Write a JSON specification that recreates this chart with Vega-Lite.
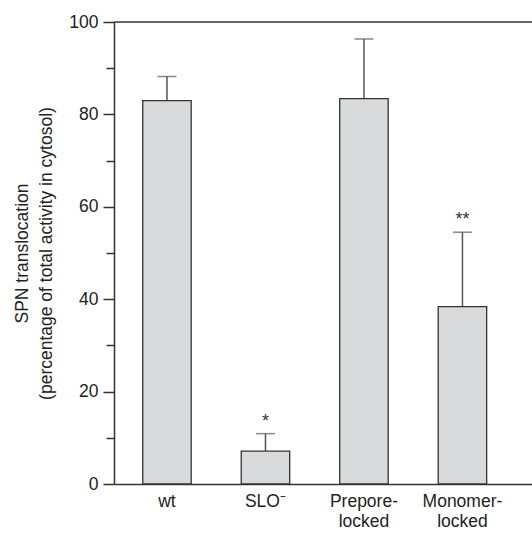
{
  "$schema": "https://vega.github.io/schema/vega-lite/v6.json",
  "autosize": "none",
  "width": 418,
  "height": 462,
  "padding": {"left": 114, "top": 22, "right": 0, "bottom": 50},
  "background": "white",
  "config": {
    "view": {"stroke": null},
    "font": "Liberation Sans",
    "axis": {"domainColor": "#333", "tickColor": "#333", "labelColor": "#222", "titleColor": "#222", "grid": false}
  },
  "layer": [
    {
      "data": {
        "values": [
          {"group": "wt", "value": 83.0, "upper": 88.2, "sig": ""},
          {"group": "SLO⁻", "value": 7.1, "upper": 10.9, "sig": "*"},
          {"group": "Prepore-locked", "value": 83.4, "upper": 96.3, "sig": ""},
          {"group": "Monomer-locked", "value": 38.4, "upper": 54.5, "sig": "**"}
        ]
      },
      "encoding": {
        "x": {
          "field": "group", "type": "nominal", "sort": null,
          "scale": {"paddingInner": 0.508, "paddingOuter": 0.376, "align": 0.388},
          "axis": {
            "title": null, "labelAngle": 0, "labelFontSize": 17.5, "labelPadding": 8,
            "ticks": false, "domainWidth": 1.5, "labelLineHeight": 20,
            "labelExpr": "datum.value == 'Prepore-locked' ? ['Prepore-', 'locked'] : datum.value == 'Monomer-locked' ? ['Monomer-', 'locked'] : datum.value"
          }
        }
      },
      "layer": [
        {
          "mark": {"type": "rule", "color": "#555", "strokeWidth": 1.5},
          "encoding": {
            "y": {"field": "value", "type": "quantitative"},
            "y2": {"field": "upper"}
          }
        },
        {
          "mark": {"type": "tick", "color": "#555", "size": 19, "thickness": 1.5, "orient": "horizontal"},
          "encoding": {
            "y": {"field": "upper", "type": "quantitative"}
          }
        },
        {
          "mark": {"type": "bar", "fill": "#d9dadc", "stroke": "#333", "strokeWidth": 1.3},
          "encoding": {
            "y": {
              "field": "value", "type": "quantitative",
              "scale": {"domain": [0, 100], "nice": false},
              "axis": {
                "values": [0, 10, 20, 30, 40, 50, 60, 70, 80, 90, 100],
                "labelExpr": "datum.value % 20 == 0 ? datum.label : ''",
                "title": ["SPN translocation", "(percentage of total activity in cytosol)"],
                "titleFontSize": 17.5, "titleFontWeight": "normal", "titlePadding": 13, "titleLineHeight": 24,
                "labelFontSize": 17.5, "labelPadding": 5,
                "tickSize": {"condition": {"test": "datum.value % 20 != 0", "value": 8}, "value": 11},
                "tickWidth": 1.5, "domainWidth": 1.5
              }
            }
          }
        },
        {
          "mark": {"type": "text", "baseline": "bottom", "dy": -3, "fontSize": 18, "color": "#333"},
          "encoding": {
            "y": {"field": "upper", "type": "quantitative"},
            "text": {"field": "sig"}
          }
        }
      ]
    },
    {
      "data": {"values": [{"t": 100}]},
      "mark": {"type": "rule", "color": "#333", "strokeWidth": 1.5},
      "encoding": {
        "y": {"field": "t", "type": "quantitative"}
      }
    }
  ]
}
